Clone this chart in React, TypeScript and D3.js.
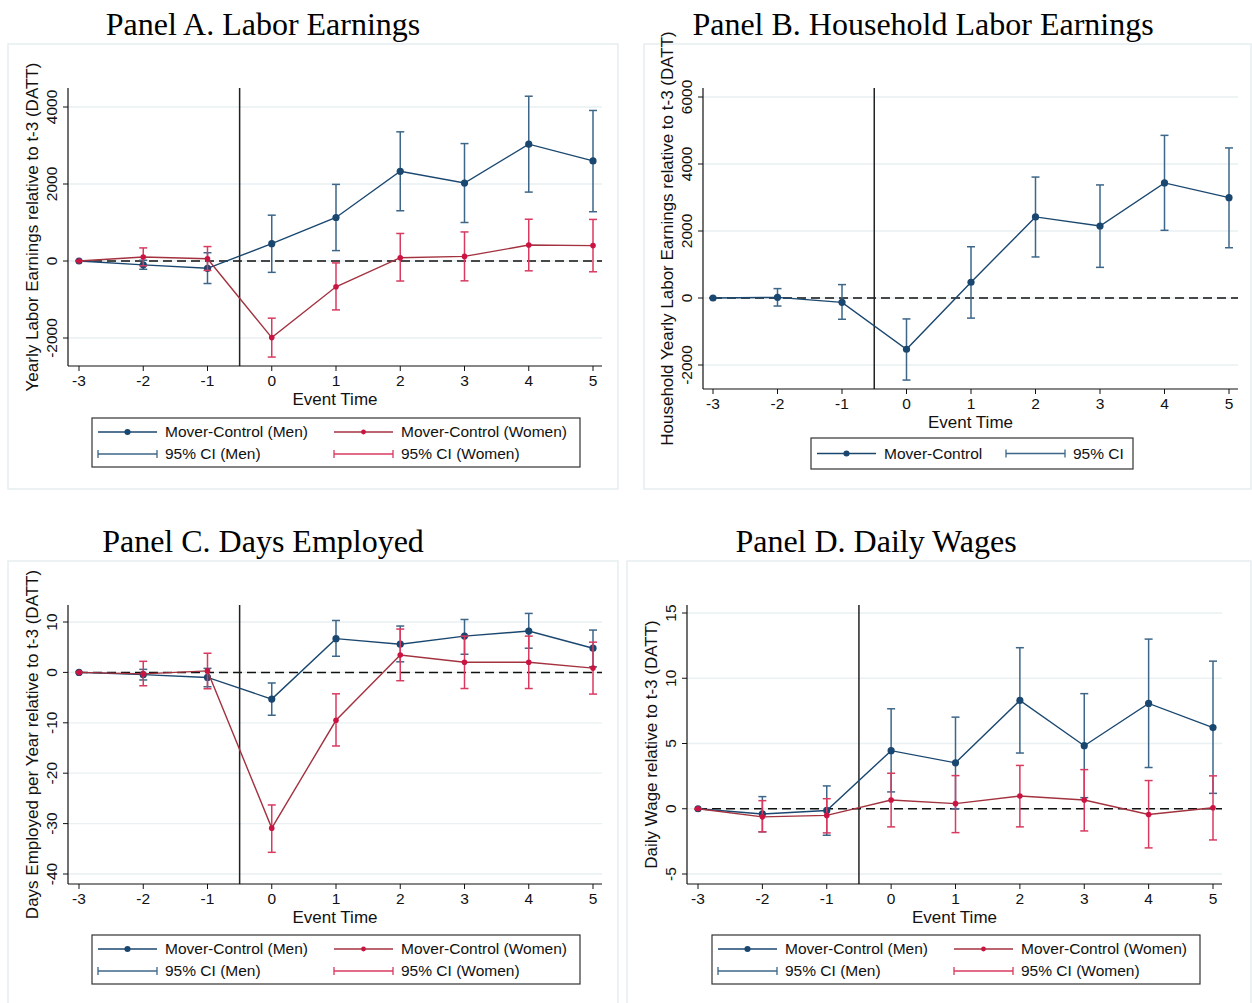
import React from "react";
import * as d3 from "d3";

// event time on the x axis
const eventTimes = [-3, -2, -1, 0, 1, 2, 3, 4, 5];

// Panel A. Labor earnings
const aMenEst = [0, -100, -190, 450, 1130, 2330, 2025, 3035, 2600];
const aMenLo = [0, -215, -585, -295, 270, 1305, 1000, 1790, 1280];
const aMenHi = [0, 20, 215, 1190, 1990, 3355, 3050, 4280, 3910];
const aWomEst = [0, 105, 60, -1990, -670, 85, 120, 415, 400];
const aWomLo = [0, -125, -245, -2495, -1270, -520, -515, -255, -280];
const aWomHi = [0, 340, 375, -1485, -50, 715, 755, 1085, 1080];

// Panel B. Household labor earnings
const bEst = [0, 20, -130, -1530, 470, 2420, 2150, 3435, 2995];
const bLo = [0, -240, -635, -2450, -600, 1225, 915, 2020, 1500];
const bHi = [0, 280, 400, -625, 1530, 3610, 3375, 4855, 4480];

// Panel C. Days employed
const cMenEst = [0, -0.45, -1.0, -5.3, 6.7, 5.6, 7.2, 8.2, 4.8];
const cMenLo = [0, -1.5, -2.85, -8.5, 3.2, 2.1, 3.6, 4.8, 1.1];
const cMenHi = [0, 0.6, 0.8, -2.1, 10.3, 9.2, 10.5, 11.7, 8.4];
const cWomEst = [0, -0.3, 0.3, -30.9, -9.5, 3.45, 2.0, 2.0, 0.85];
const cWomLo = [0, -2.65, -3.25, -35.7, -14.6, -1.65, -3.2, -3.2, -4.3];
const cWomHi = [0, 2.2, 3.8, -26.3, -4.25, 8.6, 7.2, 7.2, 6.0];

// Panel D. Daily wages
const dMenEst = [0, -0.4, -0.13, 4.45, 3.52, 8.3, 4.83, 8.07, 6.22];
const dMenLo = [0, -1.77, -2.03, 1.29, 0.0, 4.27, 0.85, 3.16, 1.18];
const dMenHi = [0, 0.93, 1.75, 7.66, 7.02, 12.34, 8.82, 13.0, 11.31];
const dWomEst = [0, -0.62, -0.51, 0.67, 0.39, 0.98, 0.67, -0.44, 0.08];
const dWomLo = [0, -1.77, -1.85, -1.39, -1.83, -1.39, -1.7, -3.0, -2.39];
const dWomHi = [0, 0.62, 0.77, 2.72, 2.54, 3.32, 3.0, 2.16, 2.52];

const yTicksA = [-2000, 0, 2000, 4000];
const yTicksB = [-2000, 0, 2000, 4000, 6000];
const yTicksC = [-40, -30, -20, -10, 0, 10];
const yTicksD = [-5, 0, 5, 10, 15];

const NAVY = "#1a476f";
const NAVY_CI = "#3d6689";
const RED_LINE = "#a3323f";
const RED = "#cc1443";
const RED_CI = "#d83a60";
const SANS = "'Liberation Sans', Arial, sans-serif";
const SERIF = "'Liberation Serif', 'Times New Roman', serif";

interface Series {
  est: number[];
  lo: number[];
  hi: number[];
  line: string;
  marker: string;
  ci: string;
  r: number;
  label: string;
  ciLabel: string;
}

interface PanelProps {
  title: string;
  titleX: number;
  titleY: number;
  frame: [number, number, number, number];
  left: number;
  right: number;
  top: number;
  bottom: number;
  xRange: [number, number];
  yDomain: [number, number];
  yRange: [number, number];
  yTicks: number[];
  yLabel: string;
  yLabelX: number;
  series: Series[];
  legend: { x: number; y: number; w: number; h: number; col2: number };
}

const Panel = (p: PanelProps) => {
  const x = d3.scaleLinear().domain([-3, 5]).range(p.xRange);
  const y = d3.scaleLinear().domain(p.yDomain).range(p.yRange);
  const line = (s: Series) =>
    d3
      .line<number>()
      .x((_, i) => x(eventTimes[i]))
      .y((d) => y(d))(s.est) || "";
  const cap = 4;
  const lg = p.legend;
  const twoRows = p.series.length > 1;

  const legendItems: React.ReactNode[] = [];
  p.series.forEach((s, k) => {
    const row1 = twoRows ? lg.y + 14 : lg.y + lg.h / 2;
    const row2 = twoRows ? lg.y + 36 : lg.y + lg.h / 2;
    const kx = twoRows ? lg.x + 6 + k * lg.col2 : lg.x + 6;
    const cx = twoRows ? kx : lg.x + 195;
    // estimate key
    legendItems.push(
      <g key={`e${k}`}>
        <line x1={kx} x2={kx + 59} y1={row1} y2={row1} stroke={s.line} strokeWidth={1.3} />
        <circle cx={kx + 29.5} cy={row1} r={s.r * 0.85} fill={s.marker} />
        <text x={kx + 67} y={row1 + 5} fontSize={15.5} fontFamily={SANS} fill="#111">
          {s.label}
        </text>
      </g>
    );
    legendItems.push(
      <g key={`c${k}`}>
        <line x1={cx} x2={cx + 59} y1={row2} y2={row2} stroke={s.ci} strokeWidth={1.3} />
        <line x1={cx} x2={cx} y1={row2 - 4} y2={row2 + 4} stroke={s.ci} strokeWidth={1.3} />
        <line x1={cx + 59} x2={cx + 59} y1={row2 - 4} y2={row2 + 4} stroke={s.ci} strokeWidth={1.3} />
        <text x={cx + 67} y={row2 + 5} fontSize={15.5} fontFamily={SANS} fill="#111">
          {s.ciLabel}
        </text>
      </g>
    );
  });

  const yMid = (p.top + p.bottom) / 2;

  return (
    <g>
      <text x={p.titleX} y={p.titleY} textAnchor="middle" fontSize={32} fontFamily={SERIF} fill="#000">
        {p.title}
      </text>
      <rect
        x={p.frame[0]}
        y={p.frame[1]}
        width={p.frame[2]}
        height={p.frame[3]}
        fill="#fff"
        stroke="#e6eeef"
        strokeWidth={1.5}
      />
      {/* grid */}
      {p.yTicks.map((t) => (
        <line key={`g${t}`} x1={p.left} x2={p.right} y1={y(t)} y2={y(t)} stroke="#e9f1f2" strokeWidth={1.3} />
      ))}
      {/* zero line and event line */}
      <line
        x1={x(-3)}
        x2={p.right}
        y1={y(0)}
        y2={y(0)}
        stroke="#111"
        strokeWidth={1.5}
        strokeDasharray="9,5"
      />
      <line x1={x(-0.5)} x2={x(-0.5)} y1={p.top} y2={p.bottom} stroke="#222" strokeWidth={1.5} />
      {/* axes */}
      <line x1={p.left} x2={p.left} y1={p.top} y2={p.bottom} stroke="#111" strokeWidth={1.2} />
      <line x1={p.left} x2={p.right} y1={p.bottom} y2={p.bottom} stroke="#111" strokeWidth={1.2} />
      {p.yTicks.map((t) => (
        <g key={`yt${t}`}>
          <line x1={p.left - 5} x2={p.left} y1={y(t)} y2={y(t)} stroke="#111" strokeWidth={1} />
          <text
            transform={`translate(${p.left - 11},${y(t)}) rotate(-90)`}
            textAnchor="middle"
            fontSize={15.5}
            fontFamily={SANS}
            fill="#111"
          >
            {t}
          </text>
        </g>
      ))}
      {eventTimes.map((t) => (
        <g key={`xt${t}`}>
          <line x1={x(t)} x2={x(t)} y1={p.bottom} y2={p.bottom + 5} stroke="#111" strokeWidth={1} />
          <text x={x(t)} y={p.bottom + 20} textAnchor="middle" fontSize={15.5} fontFamily={SANS} fill="#111">
            {t}
          </text>
        </g>
      ))}
      <text
        x={(p.left + p.right) / 2}
        y={p.bottom + 39}
        textAnchor="middle"
        fontSize={17}
        fontFamily={SANS}
        fill="#111"
      >
        Event Time
      </text>
      <text
        transform={`translate(${p.yLabelX},${yMid}) rotate(-90)`}
        textAnchor="middle"
        fontSize={17}
        fontFamily={SANS}
        fill="#111"
      >
        {p.yLabel}
      </text>
      {/* series: CIs, lines, markers */}
      {p.series.map((s, k) => (
        <g key={`s${k}`}>
          {eventTimes.map((t, i) => (
            <g key={i}>
              <line x1={x(t)} x2={x(t)} y1={y(s.lo[i])} y2={y(s.hi[i])} stroke={s.ci} strokeWidth={1.5} />
              <line x1={x(t) - cap} x2={x(t) + cap} y1={y(s.lo[i])} y2={y(s.lo[i])} stroke={s.ci} strokeWidth={1.5} />
              <line x1={x(t) - cap} x2={x(t) + cap} y1={y(s.hi[i])} y2={y(s.hi[i])} stroke={s.ci} strokeWidth={1.5} />
            </g>
          ))}
          <path d={line(s)} fill="none" stroke={s.line} strokeWidth={1.4} />
          {eventTimes.map((t, i) => (
            <circle key={`m${i}`} cx={x(t)} cy={y(s.est[i])} r={s.r} fill={s.marker} />
          ))}
        </g>
      ))}
      {/* legend */}
      <rect x={lg.x} y={lg.y} width={lg.w} height={lg.h} fill="#fff" stroke="#333" strokeWidth={1.2} />
      {legendItems}
    </g>
  );
};

const men = (est: number[], lo: number[], hi: number[]): Series => ({
  est,
  lo,
  hi,
  line: NAVY,
  marker: NAVY,
  ci: NAVY_CI,
  r: 3.6,
  label: "Mover-Control (Men)",
  ciLabel: "95% CI (Men)",
});

const women = (est: number[], lo: number[], hi: number[]): Series => ({
  est,
  lo,
  hi,
  line: RED_LINE,
  marker: RED,
  ci: RED_CI,
  r: 2.8,
  label: "Mover-Control (Women)",
  ciLabel: "95% CI (Women)",
});

const App = () => {
  const hh: Series = {
    ...men(bEst, bLo, bHi),
    label: "Mover-Control",
    ciLabel: "95% CI",
  };
  return (
    <svg
      width={1252}
      height={1003}
      viewBox="0 0 1252 1003"
      style={{ position: "absolute", left: 0, top: 0, background: "#fff" }}
    >
      <rect x={0} y={0} width={1252} height={1003} fill="#fff" />
      <Panel
        title="Panel A. Labor Earnings"
        titleX={263}
        titleY={35}
        frame={[8, 44, 610, 445]}
        left={68}
        right={602}
        top={88}
        bottom={366}
        xRange={[79, 593]}
        yDomain={[-2000, 4000]}
        yRange={[338, 107]}
        yTicks={yTicksA}
        yLabel="Yearly Labor Earnings relative to t-3 (DATT)"
        yLabelX={38}
        series={[men(aMenEst, aMenLo, aMenHi), women(aWomEst, aWomLo, aWomHi)]}
        legend={{ x: 92, y: 418, w: 488, h: 49, col2: 236 }}
      />
      <Panel
        title="Panel B. Household Labor Earnings"
        titleX={923}
        titleY={35}
        frame={[644, 44, 607, 445]}
        left={703}
        right={1238}
        top={88}
        bottom={389}
        xRange={[713, 1229]}
        yDomain={[-2000, 6000]}
        yRange={[365, 97]}
        yTicks={yTicksB}
        yLabel="Household Yearly Labor Earnings relative to t-3 (DATT)"
        yLabelX={673}
        series={[hh]}
        legend={{ x: 811, y: 438, w: 322, h: 31, col2: 0 }}
      />
      <Panel
        title="Panel C. Days Employed"
        titleX={263}
        titleY={552}
        frame={[8, 561, 610, 445]}
        left={68}
        right={602}
        top={605}
        bottom={884}
        xRange={[79, 593]}
        yDomain={[-40, 10]}
        yRange={[874, 622]}
        yTicks={yTicksC}
        yLabel="Days Employed per Year relative to t-3 (DATT)"
        yLabelX={38}
        series={[men(cMenEst, cMenLo, cMenHi), women(cWomEst, cWomLo, cWomHi)]}
        legend={{ x: 92, y: 935, w: 488, h: 49, col2: 236 }}
      />
      <Panel
        title="Panel D. Daily Wages"
        titleX={876}
        titleY={552}
        frame={[627, 561, 624, 445]}
        left={687}
        right={1222}
        top={605}
        bottom={884}
        xRange={[698, 1213]}
        yDomain={[-5, 15]}
        yRange={[874, 613]}
        yTicks={yTicksD}
        yLabel="Daily Wage relative to t-3 (DATT)"
        yLabelX={657}
        series={[men(dMenEst, dMenLo, dMenHi), women(dWomEst, dWomLo, dWomHi)]}
        legend={{ x: 712, y: 935, w: 488, h: 49, col2: 236 }}
      />
    </svg>
  );
};

export default App;
